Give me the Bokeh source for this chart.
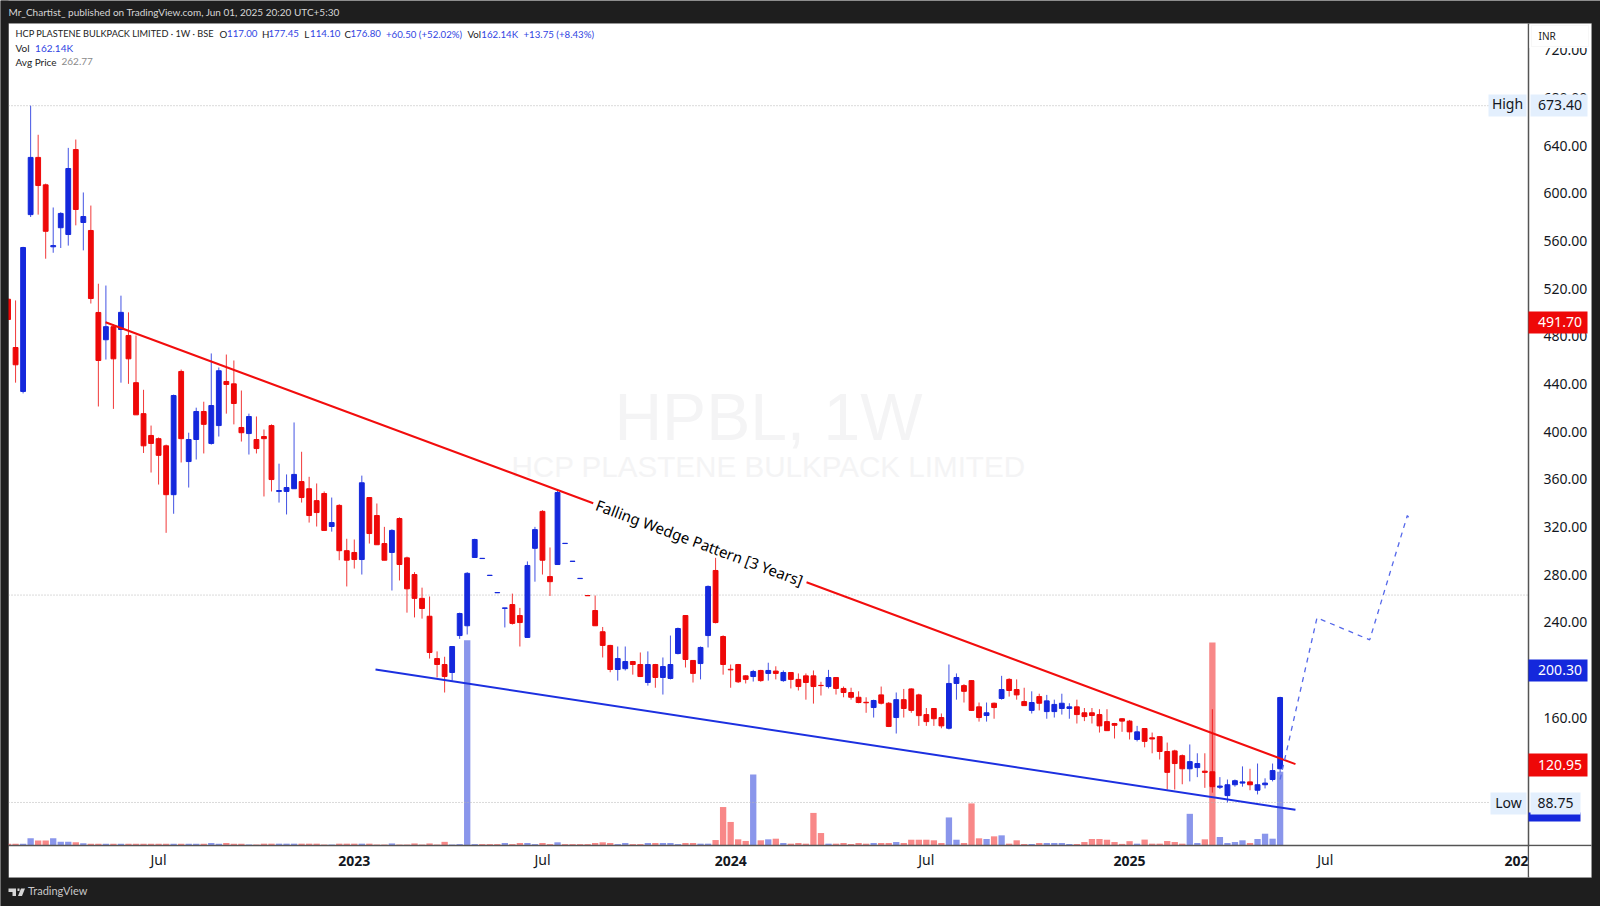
from bokeh.plotting import figure
from bokeh.models import Range1d, LinearAxis, FixedTicker, Label, BoxAnnotation, PolyAnnotation
from bokeh.embed import file_html
from bokeh.resources import INLINE

opens = [511,470.5,433.6,582,630,607,555,571,565.3,636.6,575.4,568.7,499.9,477,488,485.6,480.6,441,415,396.7,394,388,347,450.4,374.8,393.3,416.8,390,405,442,440,403.4,398.3,393.3,395.8,405,349.7,349.7,352,358,352,342,348,320.3,338,
300,298.5,292.6,344.6,329.5,306,298.5,327,294,280,260,245,209.5,204.5,197.8,228.8,237,294.3,293.4,279.2,264.7,251.6,254.8,245.6,227.2,302,333,278.3,288.4,306,291,276.6,262.4,249.8,232,220.5,200.3,201,207,204.5,189.4,204.5,193.6,192.8,213.7,245.6,207.9,205.3,228.8,283.4,228,200.5,204.5,195,
194.4,199.5,197,199,191,197.8,192,195,195,187,186,193.6,184.4,181,177,172.8,168.4,179,172,160,175,184,179,162.5,167.6,160,151,188.6,186.8,191,169,161.7,172,176,192,183.5,173.4,166,177.6,165,165,167.6,167.6,169,164,164,162.5,156.6,155,159,157,141.6,150.8,
143,144,131.5,132,128,117,118,115,114.5,101.5,94.5,103.6,105,106,99,103.6,108,117]
highs = [511.6,510,555,673.4,649,608,588,584,638,645,600.6,589.6,524,522.5,490,514,500,480.6,435,405,395,389,431,452,399,420,425,465.5,453.7,464.6,459.6,434.4,415,412.6,401.7,406,373,364,407.6,383,362,356.4,349.7,344.6,339,
310,309.4,363,345,339.6,320,318,328,295,282,269,261.6,215.5,211,220,248,282,310,293.6,279.4,264.9,252,264,252,291,320,334,302.7,351,306.2,291.2,276.8,262.6,262.4,236,221,219.6,219.6,207.5,214.6,215.5,205,210.4,228.8,235.5,246,208,219.6,270.8,294,229,204.5,205,195.5,
200,200,206,203,199.5,198,197,197,199.5,190,200,194,186,185,182,177,175,186,173,181,184,184.5,180,168,168,163.4,204.5,197,188,191.5,172.6,172.6,172.6,195,193,192,185,182,180,179,175,180,172,175,168,168,167,167,155.5,159.5,158,153,151,
147.4,144.5,139,133,129,137.4,130,130,167,110,108,108,119,117,121.4,109,121.4,177.45]
lows = [494,441,432,580,582,545,550,554,556,573,552,507.4,421,460.4,419,441,440,414,382,365.6,355.5,315,331,374,353,376.5,381.6,389,395.8,415,406,391.6,380.7,381.6,345.5,349.7,340.4,330.4,352,340.4,323.6,320.3,317,316,292,
270,285,280,306,305,292,266.6,275,248,244,243,209.5,193.6,181,191,226,229.7,294,293.2,279,264.5,235.6,238,219.6,227,274,280,262,288,305.8,290.8,276.4,262.2,237,210.4,198,191,199.5,196,194,186.8,185,179.3,192,213,202,189.4,192,218.8,239,196,185,189,188.6,
190.2,190,191,192,190,184.4,182.7,175,171.7,178.5,184.4,179.3,177,175,172,164,160,171,152,146.6,160,164,153,153,153,151,150,175,172.6,165.5,156.6,156.6,159,175,177.6,175,170,163.4,166,159,160,162.5,159,155,157,155,147.4,149,142.4,148,141.6,140,135,
130,124.8,99.6,99.6,104,106.4,110,101,97,100,88.75,102,102,99,95.5,100.5,106.4,114.1]
closes = [494,456,554.4,630,606.4,568,556,583,620.7,586.3,580.4,511.6,459.6,488,461,500,461,414,388,390,380,347,430.2,394,393.3,416.8,406,421.8,451,439.5,423.5,399,412.6,385.7,394,359.7,350.5,353,364,344.6,329.5,332,317,323.6,300,
292,292.6,357,314.4,305,292,317,288.4,268,260,251.5,214.6,204.5,194.4,219.6,247.3,281,309.4,293.6,279.4,264.9,252,239,239.7,287.6,317.7,292,274,348.8,306.2,291.2,276.8,262.2,237,220.5,200.3,209.5,207,204.5,194.4,204.5,193.6,202.8,204.5,234.7,208.7,197,218.8,270,239.7,204.5,200,190,192,
198.6,191,199.5,197,197.8,192,186,189.4,186,186.8,193.6,184.4,181,177,172.6,172.4,174.3,172,152.5,175,167.6,166,161.6,156.6,159,153,188.6,193.6,182,166,160,164,168.4,183.5,182.7,179,170,172.6,172,174,171,172,169,162.5,160.8,161.7,153,149,153.5,157,148,148,140,
142,131.5,114,121.4,117,123,121.4,114,102,102.5,103.6,107,106,103.6,103.6,105,115.5,176.8]
volumes_k = [3,3,3,15,10,10,15,7,7,6,4,3,3,3,3,3,3,3,3,3,3,3,3,3,3,3,3,4.5,3,4.5,3,3,1,1,3,3,3,3,3,3,3,3,1,1,3,3,3,3,3,1,1,3.5,1,1,3.5,1,3.5,1,7,1,2,453,
2,2,2,2,4.5,2,4.5,4.5,2,4.5,2,6,2,2,2,2,4.5,6,4.5,2,4.5,2,2,4.5,4.5,4.5,4.5,2,4.5,4.5,3,3,11,84,51,12.6,9,156,10.4,12.6,14,4.4,3,4.4,3,71,26.5,3,3,4.4,2.2,4.4,3,4.4,4.4,4.4,6.6,4.4,11.7,11.7,11.7,10.4,4.4,61,11.7,4.4,92,14.8,13.3,19.2,21.4,3,10.4,2.2,2.2,4.4,4.4,4.4,4.4,2.2,2.2,6.6,13.3,13.3,11.7,6.6,2.5,8.5,3,12,3,3,8.8,6.6,3,69,4.4,12.6,448,17.7,4.4,6.6,10.4,4.4,13.3,25,14,162.14]
flat_red_volume = [63,64,65,74,75,76]

upper_x = [12.95,77.74]
upper_y = [491.7,339.8]
upper2_x = [106.08,171.04]
upper2_y = [273.5,120.95]
lower_x = [48.82,171.04]
lower_y = [200.3,82.6]
proj_x = [169,173.9,180.9,185.9,186.3]
proj_y = [108,243.7,225.2,329.5,326.2]
high_price = 673.40
low_price = 88.75
avg_price = 262.77
month_ticks = [20,71,122,175]
month_labels = ["Jul","Jul","Jul","Jul"]
year_ticks = [46,96,149,200.4]
year_labels = ["2023","2024","2025","202"]
price_ticks = [160,200,240,280,320,360,400,440,480,520,560,600,640,680,720]

RED="#ee0808"; BLUE="#1428dc"; VRED="#f88888"; VBLUE="#8a96eb"; DARK="#1e1e1e"
FONT="Noto Sans"; LEG="Lato"

def px(X): return (X-7.55)/7.527
def py(Y): return 761.67-0.8391*Y

xs=list(range(len(closes)))
p=figure(width=1600,height=906,x_range=Range1d(px(0),px(1600)),y_range=Range1d(py(906),py(0)),
         output_backend="svg",toolbar_location=None,y_axis_location="right",
         min_border_left=0,min_border_right=0,min_border_top=0,min_border_bottom=0,
         border_fill_color=DARK,background_fill_color=DARK,outline_line_color=None)
p.grid.visible=False
p.extra_y_ranges={"vol":Range1d(-136,1868)}

def box(L,R,T,B,color,level="annotation",line=None,alpha=1):
    b=BoxAnnotation(left=px(L),right=px(R),top=py(T),bottom=py(B),fill_color=color,fill_alpha=alpha,
                    line_color=line,level=level)
    p.add_layout(b); return b
def lbl(X,Y,text,color="#222222",size=11,font=FONT,align="left",base="middle",style="normal",level="annotation",angle=0):
    l=Label(x=px(X),y=py(Y),text=text,text_color=color,text_font_size=f"{size}px",text_font=font,
            text_align=align,text_baseline=base,text_font_style=style,level=level,angle=angle,angle_units="deg")
    p.add_layout(l); return l

# white chart area
box(8,1591,23,877,"white",level="underlay",line="#a8a8a8")

# watermark
lbl(768,416,"HPBL, 1W","#f4f4f5",66,"Liberation Sans","center",level="underlay")
lbl(768,466,"HCP PLASTENE BULKPACK LIMITED","#f4f4f5",29.6,"Liberation Sans","center",level="underlay")

# volume
vcol=[(VRED if (i in flat_red_volume or c<o) else VBLUE) for i,(o,c) in enumerate(zip(opens,closes))]
p.vbar(x=xs,top=volumes_k,bottom=0,width=0.84,color=vcol,y_range_name="vol",line_width=0)

# reference lines
p.line([px(8),px(1488)],[high_price,high_price],line_color="#b4b4b4",line_dash=[1,2],line_width=1)
p.line([px(8),px(1490)],[low_price,low_price],line_color="#b4b4b4",line_dash=[1,2],line_width=1)
p.line([px(8),px(1528)],[avg_price,avg_price],line_color="#b4b4b4",line_dash=[1,2],line_width=1)

# candles
cc=[(RED if c<o else BLUE) for o,c in zip(opens,closes)]
p.segment(x0=xs,x1=xs,y0=lows,y1=highs,color=cc,line_width=1,line_alpha=0.8)
p.vbar(x=xs,top=opens,bottom=closes,width=0.64,fill_color=cc,line_color=cc,line_width=1)

# trend lines
p.line(upper_x,upper_y,line_color="#f20d0d",line_width=2)
p.line(upper2_x,upper2_y,line_color="#f20d0d",line_width=2)
p.line(lower_x,lower_y,line_color="#1c30e0",line_width=2)
p.line(proj_x,proj_y,line_color="#5568ea",line_width=1.3,line_dash=[5,5])
lbl(699,542,"Falling Wedge Pattern [3 Years]","#000000",15,"Noto Sans","center",angle=-20.4)

# axes
ya=p.yaxis[0]
ya.fixed_location=px(1528)
ya.bounds=(py(877),py(23))
ya.ticker=FixedTicker(ticks=price_ticks)
ya.major_label_overrides={t:f"{t:.2f}" for t in price_ticks}
ya.major_tick_line_color=None; ya.minor_tick_line_color=None
ya.axis_line_color="#555555"; ya.axis_line_width=1.5
ya.major_label_text_font=FONT; ya.major_label_text_font_size="14px"; ya.major_label_text_color="#131722"
ya.major_label_standoff=9

xa=p.xaxis[0]
xa.fixed_location=py(845)
xa.bounds=(px(8),px(1591))
xa.ticker=FixedTicker(ticks=year_ticks)
xa.major_label_overrides=dict(zip(year_ticks,year_labels))
xa.major_tick_line_color=None; xa.minor_tick_line_color=None
xa.axis_line_color="#555555"; xa.axis_line_width=1.5
xa.major_label_text_font=FONT; xa.major_label_text_font_size="14px"; xa.major_label_text_color="#131722"
xa.major_label_text_font_style="bold"
xa.major_label_standoff=4

xm=LinearAxis(fixed_location=py(845),ticker=FixedTicker(ticks=month_ticks),
              major_label_overrides=dict(zip(month_ticks,month_labels)))
xm.major_tick_line_color=None; xm.minor_tick_line_color=None; xm.axis_line_color=None
xm.major_label_text_font=FONT; xm.major_label_text_font_size="14px"; xm.major_label_text_color="#131722"
xm.major_label_standoff=-2
p.add_layout(xm,"below")

# left strip hides the part of the first bar beyond the chart edge; the axis pane hides the cut year label
box(0,8,0,906,DARK)
box(1528.8,1590.5,846,876,"white")

# INR box
box(1529,1590,24,47.5,"white")
box(1531,1588,25,46,"white",line="#e6e6e6")
lbl(1538,35,"INR","#222222",10)

# price tags
box(1528,1587,311,333,RED); lbl(1559.5,321,"491.70","white",14,align="center")
box(1528,1587,659,681,BLUE); lbl(1559.5,669,"200.30","white",14,align="center")
box(1528,1587,753,776,RED); lbl(1559.5,764,"120.95","white",14,align="center")
box(1528,1580,812,821,BLUE)
box(1488,1526,94,116,"#e3effd"); lbl(1507,102.5,"High","#131722",14,align="center")
box(1530,1587,94,116,"#e3effd"); lbl(1559.5,104,"673.40","#131722",14,align="center")
box(1490,1526,792,814,"#e3effd"); lbl(1508,802,"Low","#131722",14,align="center")
box(1530,1580,792,814,"#e3effd"); lbl(1555,802,"88.75","#131722",14,align="center")

# header and legend
lbl(8,11,"Mr_Chartist_ published on TradingView.com, Jun 01, 2025 20:20 UTC+5:30","#d6d6d6",10,LEG)
TXT="#222222"; VAL="#2f44e2"
lbl(15,33,"HCP PLASTENE BULKPACK LIMITED · 1W · BSE",TXT,9.2,LEG)
for X,t,c in [(219,"O",TXT),(226.6,"117.00",VAL),(261.4,"H",TXT),(268,"177.45",VAL),
              (303.7,"L",TXT),(309.6,"114.10",VAL),(344,"C",TXT),(350,"176.80",VAL),(385.5,"+60.50 (+52.02%)",VAL),
              (467,"Vol",TXT),(480.8,"162.14K",VAL),(523,"+13.75 (+8.43%)",VAL)]:
    lbl(X,33,t,c,9.7,LEG)
lbl(15,47,"Vol",TXT,10,LEG); lbl(34.6,47,"162.14K",VAL,10,LEG)
lbl(15,61,"Avg Price",TXT,10,LEG); lbl(61,61,"262.77","#8a8a8a",10,LEG)

# footer
for xs_,ys_ in [([8,15.5,15.5,12,12,8],[888,888,895.5,895.5,891.5,891.5]),
                ([17,19,19,17],[888,888,890.5,890.5]),
                ([20.5,24.5,21.5,17.5],[888,888,895.5,895.5])]:
    p.add_layout(PolyAnnotation(xs=[px(v) for v in xs_],ys=[py(v) for v in ys_],fill_color="#d6d6d6",fill_alpha=1,line_color=None))
lbl(27.5,890,"TradingView","#c8c8c8",11,LEG)

open("out.html","w").write(file_html(p,INLINE))
